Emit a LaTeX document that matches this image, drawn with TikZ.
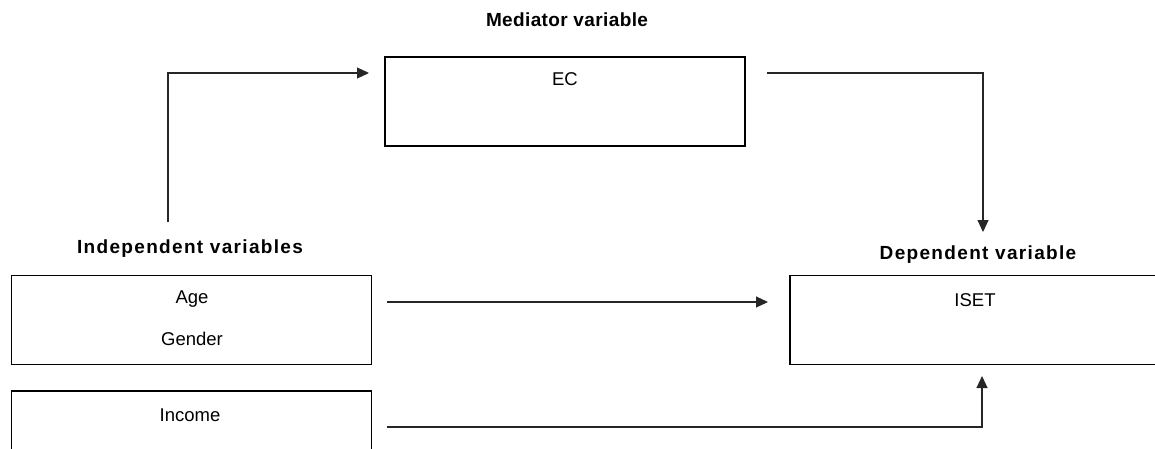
\documentclass[tikz,border=0pt]{standalone}
\usepackage{fontspec}
\setmainfont{Liberation Sans}
\newfontfamily\wideb[LetterSpace=7]{Liberation Sans}
\newfontfamily\midb[LetterSpace=2]{Liberation Sans}
\usetikzlibrary{arrows.meta,calc}
\begin{document}
\begin{tikzpicture}[x=1pt,y=1pt,
  box/.style={draw=black,line width=1.8pt,inner sep=0pt,minimum width=360pt,minimum height=89pt},
  lbl/.style={inner sep=0pt,font=\fontsize{18.5}{20}\selectfont},
  ttl/.style={inner sep=0pt,font=\fontsize{19}{21}\selectfont\bfseries\wideb},
  ttlm/.style={inner sep=0pt,font=\fontsize{19}{21}\selectfont\bfseries\midb},
  conn/.style={draw=black!85,line width=1.1pt},
  arr/.style={conn,-{Triangle[length=12pt,width=11pt]}}]
\useasboundingbox (0,0) rectangle (1155,-448);
\clip (0,0) rectangle (1155,-448);
% titles
\node[ttlm] (tmed) at (567,-20) {Mediator variable};
\node[ttl] (tind) at (190,-249) {Independent variables};
\node[ttl] (tdep) at (978,-255) {Dependent variable};
% boxes
\node[box] (ec) at (565,-101.5) {};
\node[box] (ag) at (191.5,-320) {};
\node[box,minimum height=90pt] (inc) at (191.5,-436) {};
\node[box,minimum width=370pt] (iset) at (975,-320) {};
% texts
\node[lbl] (tec) at (565,-79) {EC};
\node[lbl] (tage) at (192,-299) {Age};
\node[lbl] (tgen) at (192,-339) {Gender};
\node[lbl] (tinc) at (190,-415) {Income};
\node[lbl] (tiset) at (975,-300) {ISET};
% connector points
\coordinate (p1) at (168,-222);
\coordinate (p2) at (168,-73);
\coordinate (p3) at (369,-73);
\coordinate (q1) at (767,-73);
\coordinate (q2) at (983,-73);
\coordinate (q3) at (983,-232);
\coordinate (r1) at (387,-302);
\coordinate (r2) at (768,-302);
\coordinate (s1) at (387,-427);
\coordinate (s2) at (982,-427);
\coordinate (s3) at (982,-376);
\draw[arr] (p1) -- (p2) -- (p3);
\draw[arr] (q1) -- (q2) -- (q3);
\draw[arr] (r1) -- (r2);
\draw[arr] (s1) -- (s2) -- (s3);
\end{tikzpicture}
\end{document}
